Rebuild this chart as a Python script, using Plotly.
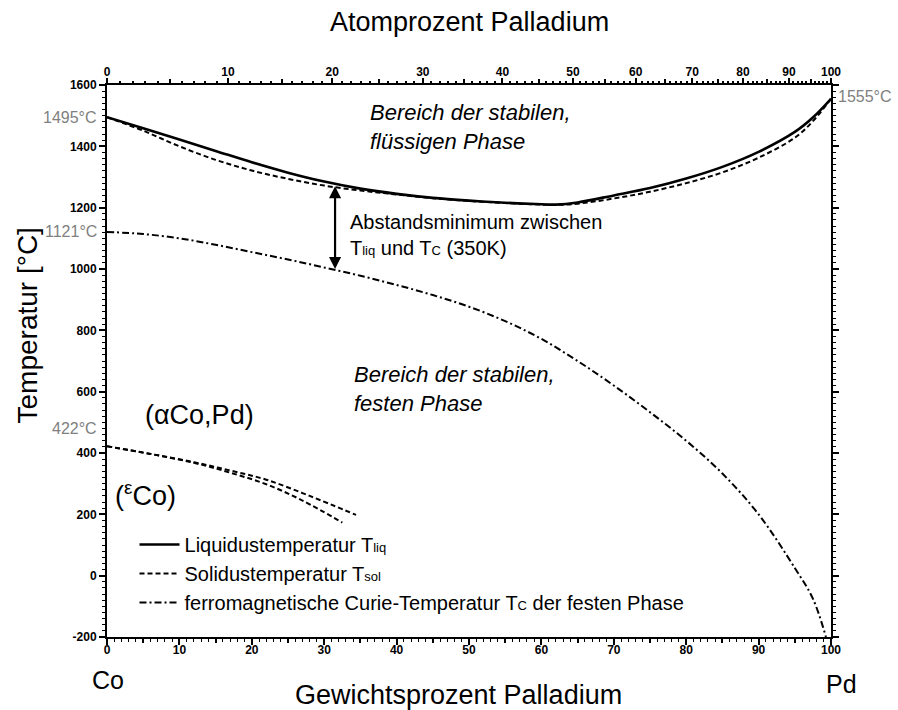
import numpy as np
import plotly.graph_objects as go

# Co-Pd phase diagram, compositions in weight-% Pd, temperatures in °C
LIQ_WT = [0, 5, 10, 15, 20, 25, 30, 35, 40, 45, 50, 55, 60, 62, 65, 70, 75, 80, 85, 90, 95, 97.5, 100]
LIQ_T = [1495, 1459, 1422, 1385, 1348, 1314, 1285, 1262, 1245, 1232, 1223, 1216, 1211, 1210, 1217,
         1240, 1264, 1295, 1333, 1382, 1447, 1494, 1555]

SOL_WT = [0, 5, 10, 15, 20, 25, 30, 35, 40, 45, 50, 55, 60, 62, 65, 70, 75, 80, 85, 90, 95, 97.5, 100]
SOL_T = [1495, 1451, 1400, 1356, 1321, 1294, 1272, 1256, 1243, 1231, 1222, 1215, 1210, 1209,
         1213, 1230, 1252, 1280, 1315, 1363, 1428, 1482, 1555]

CURIE_WT = [0, 5, 10, 15, 20, 25, 30, 35, 40, 45, 50, 55, 60, 65, 70, 75, 80, 85, 90, 95, 97.5, 99.3]
CURIE_T = [1121, 1114, 1100, 1079, 1055, 1031, 1005, 978, 948, 915, 877, 830, 772, 700, 620, 533,
           440, 333, 200, 25, -75, -200]

# hcp/fcc transformation of cobalt (two branches)
EPS_UP_WT = [0, 6, 12, 17, 22, 28, 34.4]
EPS_UP_T = [422, 397, 370, 343, 313, 260, 198]
EPS_LO_WT = [0, 6, 12, 17, 22, 27, 32.5]
EPS_LO_T = [422, 397, 368, 336, 298, 245, 173]

# Tick labels
Y_TICKS = [-200, 0, 200, 400, 600, 800, 1000, 1200, 1400, 1600]
WT_TICKS = [0, 10, 20, 30, 40, 50, 60, 70, 80, 90, 100]
AT_TICKS = [0, 10, 20, 30, 40, 50, 60, 70, 80, 90, 100]

# marked values
T_CO_MELT, T_PD_MELT, T_CO_CURIE, T_CO_HCP = 1495, 1555, 1121, 422
GAP_WT = 31.5

M_CO, M_PD = 58.933, 106.42


def at_to_wt(a):
    a = np.asarray(a, dtype=float)
    return 100 * a * M_PD / (a * M_PD + (100 - a) * M_CO)


FONT = "Liberation Sans, Arial, sans-serif"
BLACK = "black"
GREY = "#808080"

fig = go.Figure()


def sub(s, size=13):
    return f"<span style='font-size:{size}px'>{s}</span>"


SMOOTH = 1.0
fig.add_trace(go.Scatter(
    x=LIQ_WT, y=LIQ_T, mode="lines",
    line=dict(color=BLACK, width=2.6, shape="spline", smoothing=SMOOTH),
    name="Liquidustemperatur T" + sub("liq"), hoverinfo="skip"))
fig.add_trace(go.Scatter(
    x=SOL_WT, y=SOL_T, mode="lines",
    line=dict(color=BLACK, width=2, dash="5px,3px", shape="spline", smoothing=SMOOTH),
    name="Solidustemperatur T" + sub("sol"), hoverinfo="skip"))
fig.add_trace(go.Scatter(
    x=CURIE_WT, y=CURIE_T, mode="lines",
    line=dict(color=BLACK, width=2, dash="7px,3px,2px,3px", shape="spline", smoothing=SMOOTH),
    name="ferromagnetische Curie-Temperatur T" + sub("C") + " der festen Phase", hoverinfo="skip"))
for xs, ys in ((EPS_UP_WT, EPS_UP_T), (EPS_LO_WT, EPS_LO_T)):
    fig.add_trace(go.Scatter(
        x=xs, y=ys, mode="lines",
        line=dict(color=BLACK, width=2, dash="5px,3px", shape="spline", smoothing=SMOOTH),
        showlegend=False, hoverinfo="skip"))

# empty traces so that the extra tick-only axes get drawn
for ax in ("x2", "x3", "x4", "x5"):
    fig.add_trace(go.Scatter(x=[None], y=[None], xaxis=ax, showlegend=False, hoverinfo="skip"))

tickfont = dict(family=FONT, size=12, color=BLACK, weight="bold")
at_major = at_to_wt(AT_TICKS)
at_mid = at_to_wt([v for v in range(5, 100, 10)])
at_minor = at_to_wt([v for v in range(1, 100) if v % 5])

common_x = dict(range=[0, 100], showgrid=False, zeroline=False, tickcolor=BLACK, tickwidth=1.5)

fig.update_layout(
    width=898, height=710,
    margin=dict(l=107, r=67, t=85, b=73),
    paper_bgcolor="white", plot_bgcolor="white",
    font=dict(family=FONT, color=BLACK),
    showlegend=True,
    legend=dict(x=0.038, y=0.203, xanchor="left", yanchor="top", bgcolor="rgba(0,0,0,0)",
                font=dict(family=FONT, size=20, color=BLACK), itemwidth=40, tracegroupgap=0),
    xaxis=dict(**common_x, tickvals=WT_TICKS, ticktext=[str(v) for v in WT_TICKS],
               ticks="outside", ticklen=6, showline=True, linecolor=BLACK, linewidth=2,
               mirror=True, tickfont=tickfont, ticklabelstandoff=-5,
               minor=dict(tickvals=[v for v in range(1, 100) if v % 5], ticks="outside",
                          ticklen=3, tickcolor=BLACK, tickwidth=1, showgrid=False)),
    xaxis4=dict(**common_x, overlaying="x", side="bottom", tickvals=[v for v in range(5, 100, 10)],
                ticks="outside", ticklen=5, showticklabels=False, showline=False),
    xaxis2=dict(**common_x, overlaying="x", side="top", tickvals=list(at_major),
                ticktext=[str(v) for v in AT_TICKS], ticks="outside", ticklen=6,
                showline=False, tickfont=tickfont, ticklabelstandoff=-3),
    xaxis3=dict(**common_x, overlaying="x", side="top", tickvals=list(at_minor),
                ticks="outside", ticklen=3, showticklabels=False, showline=False),
    xaxis5=dict(**common_x, overlaying="x", side="top", tickvals=list(at_mid),
                ticks="outside", ticklen=5, showticklabels=False, showline=False),
    yaxis=dict(range=[-200, 1600], tickvals=Y_TICKS, ticktext=[str(v) for v in Y_TICKS],
               ticks="outside", ticklen=6, tickwidth=1.5, tickcolor=BLACK,
               showline=True, linecolor=BLACK, linewidth=2, mirror="ticks",
               showgrid=False, zeroline=False, tickfont=tickfont,
               minor=dict(dtick=20, ticks="outside", ticklen=3, tickcolor=BLACK,
                          tickwidth=1, showgrid=False)),
)

# double arrow for the smallest distance between liquidus and Curie line
t_top = float(np.interp(GAP_WT, LIQ_WT, LIQ_T))
t_bot = float(np.interp(GAP_WT, CURIE_WT, CURIE_T))
fig.add_annotation(x=GAP_WT, y=t_bot + 3, ax=GAP_WT, ay=t_top - 3, xref="x", yref="y",
                   axref="x", ayref="y", text="", showarrow=True, arrowhead=2,
                   arrowside="end+start", arrowsize=1.1, arrowwidth=2.2, arrowcolor=BLACK)

ann = []


def text(x, y, s, size=20, xref="x", yref="y", xanchor="left", yanchor="middle",
         color=BLACK, italic=False, angle=0, xshift=0, yshift=0, align="left"):
    ann.append(dict(x=x, y=y, xref=xref, yref=yref, text=s, showarrow=False,
                    xanchor=xanchor, yanchor=yanchor, align=align, textangle=angle,
                    xshift=xshift, yshift=yshift,
                    font=dict(family=FONT, size=size, color=color,
                              style="italic" if italic else "normal")))


text(36.0, 1463, "Bereich der stabilen,<br>flüssigen Phase", size=22, italic=True)
text(33.3, 1111, "Abstandsminimum zwischen<br>T" + sub("liq") + " und T" + sub("C") + " (350K)")
text(33.8, 610, "Bereich der stabilen,<br>festen Phase", size=22, italic=True)
text(5.0, 524, "(αCo,Pd)", size=27)
text(0.8, 266, "(<sup>ε</sup>Co)", size=27)

# melting / transformation temperatures
text(0, T_CO_MELT, f"{T_CO_MELT}°C", size=16, color=GREY, xanchor="right", xshift=-8)
text(0, T_CO_CURIE, f"{T_CO_CURIE}°C", size=16, color=GREY, xanchor="right", xshift=-8)
text(0, T_CO_HCP, f"{T_CO_HCP}°C", size=16, color=GREY, xanchor="right", xshift=-8, yshift=18)
text(100, T_PD_MELT, f"{T_PD_MELT}°C", size=16, color=GREY, xanchor="left", xshift=5, yshift=2)

# axis titles and element names
text(0.501, 1.114, "Atomprozent Palladium", size=27, xref="paper", yref="paper", xanchor="center")
text(0.485, -0.105, "Gewichtsprozent Palladium", size=27, xref="paper", yref="paper", xanchor="center")
text(-0.11, 0.565, "Temperatur [°C]", size=28, xref="paper", yref="paper", xanchor="center",
     angle=-90)
text(-0.024, -0.078, "Co", size=25, xref="paper", yref="paper")
text(0.99, -0.085, "Pd", size=25, xref="paper", yref="paper")

for a in ann:
    fig.add_annotation(**a)

fig.write_html("out.html")
